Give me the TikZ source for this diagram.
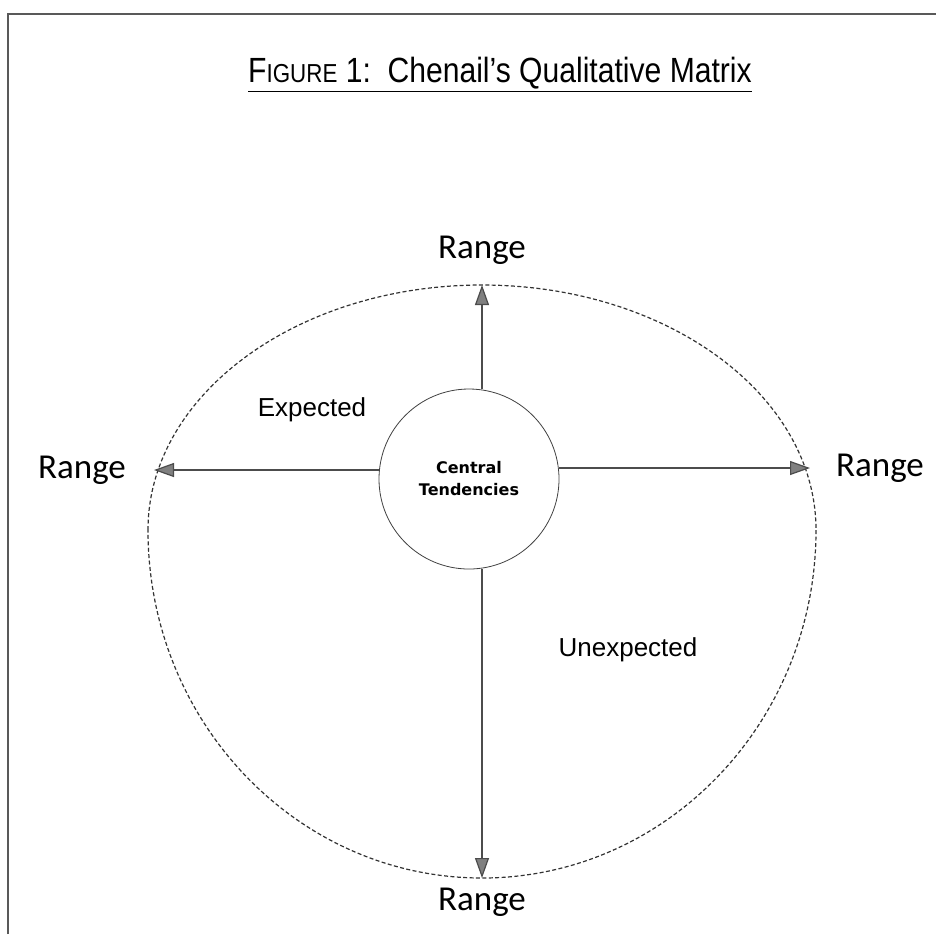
\documentclass[tikz,border=0pt]{standalone}
\usepackage{fontspec}
\setmainfont{Liberation Sans}
\newfontfamily\rangefont{Carlito}
\newfontfamily\tendfont{DejaVu Sans}
\newfontfamily\titlefont[FakeStretch=0.86]{Liberation Sans}
\usetikzlibrary{arrows.meta,positioning}

\begin{document}
\begin{tikzpicture}[x=0.5pt, y=-0.5pt,
  rangelbl/.style={font=\rangefont\fontsize{17.5}{20}\selectfont, inner sep=0pt},
  zonelbl/.style={font=\fontsize{13}{15}\selectfont, inner sep=0pt},
  tendbox/.style={draw=black!75, circle, minimum size=90pt, inner sep=0pt, align=center,
                  font=\tendfont\bfseries\fontsize{8}{11}\selectfont},
  rarr/.style={-{Triangle[length=10pt, width=7pt, fill=black!50]}, draw=black!70, semithick}
]
\useasboundingbox (0,0) rectangle (936,934);
\draw[black!65, line width=1pt] (8,934) -- (8,14) -- (936,14);

% title
\node (title) at (500,75) {\titlefont\fontsize{17.5}{20}\selectfont
  \underline{F{\fontsize{13}{15}\selectfont IGURE} 1:\ \ Chenail’s Qualitative Matrix}};

% outer range, a little wider near the top
\draw[black!80, line width=0.6pt, dash pattern=on 2pt off 1.2pt]
  (148,530) arc[start angle=180, end angle=360, x radius=334, y radius=245]
            arc[start angle=0, end angle=180, x radius=334, y radius=348];
\node[tendbox] (ct) at (469,479) {Central\\Tendencies};

\coordinate (topend) at (482,285);
\coordinate (botend) at (482,878);
\coordinate (lftend) at (154,470);
\coordinate (rgtend) at (810,468);

\node[rangelbl] (rtop) at (482,250) {Range};
\node[rangelbl] (rbot) at (482,902) {Range};
\node[rangelbl] (rlft) at (82,470) {Range};
\node[rangelbl] (rrgt) at (880,468) {Range};

\node[zonelbl] (exp) at (312,410) {Expected};
\node[zonelbl] (unexp) at (628,650) {Unexpected};

\draw[rarr] (topend |- ct.north) -- (topend);
\draw[rarr] (botend |- ct.south) -- (botend);
\draw[rarr] (lftend -| ct.west) -- (lftend);
\draw[rarr] (rgtend -| ct.east) -- (rgtend);
\end{tikzpicture}
\end{document}
